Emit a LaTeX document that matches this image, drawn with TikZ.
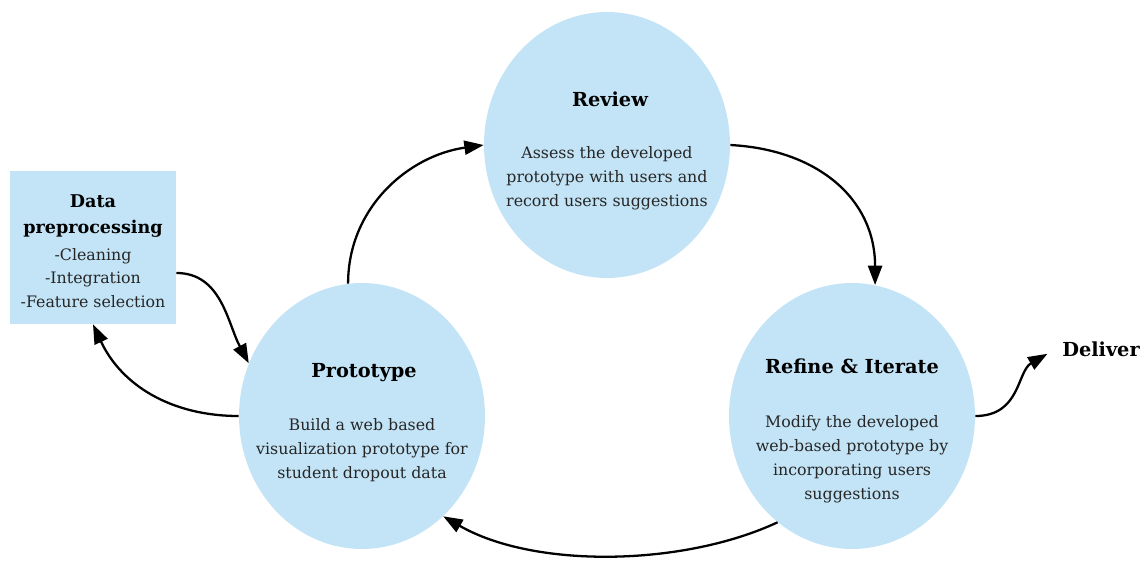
\documentclass[tikz,border=0pt]{standalone}
\usepackage{fontspec}
\setmainfont{DejaVu Serif}
\usetikzlibrary{arrows.meta,shapes.geometric}
\definecolor{stageblue}{RGB}{195,228,246}
\definecolor{inktext}{RGB}{38,38,38}
\tikzset{
	stage/.style={ellipse, fill=stageblue, minimum width=4.92cm, minimum height=5.32cm, inner sep=0pt},
	prepbox/.style={rectangle, fill=stageblue, minimum width=3.32cm, minimum height=3.06cm, inner sep=0pt},
	stagetitle/.style={font=\fontsize{11}{13}\selectfont\bfseries, anchor=base},
	preptitle/.style={font=\fontsize{10}{15.3}\selectfont\bfseries, align=center},
	stagetext/.style={font=\fontsize{9}{13.6}\selectfont, align=center, text=inktext},
	flow/.style={-{Triangle[length=11pt,width=8pt]}, line width=1.3pt}
}

\begin{document}
\begin{tikzpicture}[x=0.02cm, y=0.02cm]
		%%%%% START %%%%%
		\useasboundingbox (0, 0) rectangle (1147, -562);
		
		\node[stage] (review) at (607, -145) {};
		\node[stage] (proto) at (362, -416) {};
		\node[stage] (refine) at (852, -416) {};
		\node[prepbox] (prep) at (93, -247.5) {};
		
		\node[stagetitle] (reviewtitle) at (610, -106) {Review};
		\node[stagetext] (reviewtext) at (607, -178) {Assess the developed\\prototype with users and\\record users suggestions};
		
		\node[stagetitle] (prototitle) at (364, -377) {Prototype};
		\node[stagetext] (prototext) at (362, -450) {Build a web based\\visualization prototype for\\student dropout data};
		
		\node[stagetitle] (refinetitle) at (852, -373) {Refine \& Iterate};
		\node[stagetext] (refinetext) at (852, -459) {Modify the developed\\web-based prototype by\\incorporating users\\suggestions};
		
		\node[preptitle] (preptitle) at (93, -216) {Data\\preprocessing};
		\node[stagetext] (preptext) at (93, -278) {-Cleaning\\-Integration\\-Feature selection};
		
		\node[stagetitle] (deliver) at (1101, -356) {Deliver};
		
		% cycle
		\draw[flow] (prep.-17) to[out=0, in=118] (proto.155);
		\draw[flow] (proto.west) to[out=180, in=-65] (prep.south);
		\draw[flow] (proto.96) to[out=90, in=188] (review.west);
		\draw[flow] (review.east) to[out=-3, in=90, looseness=1.1] (refine.80);
		\draw[flow] (refine.235) to[out=205, in=-30, looseness=0.8] (proto.-51);
		\draw[flow, shorten >=2mm] (refine.east) to[out=0, in=210, looseness=1.1] (deliver.west);
		
		%%%%% END %%%%%
	\end{tikzpicture}
\end{document}
